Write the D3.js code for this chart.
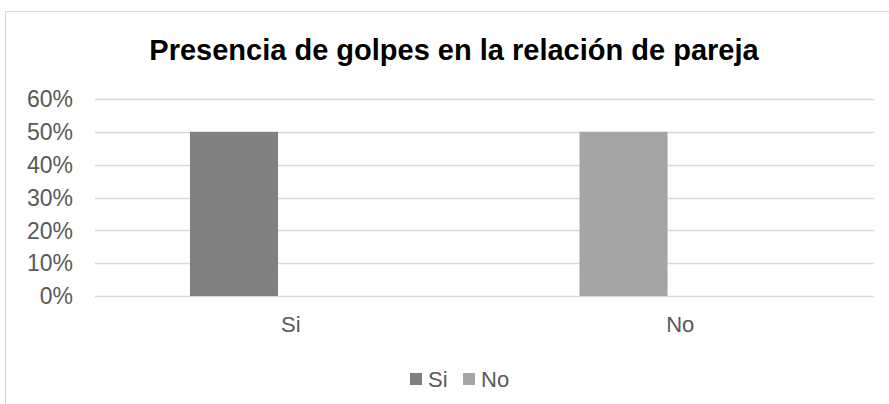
<!DOCTYPE html>
<html>
<head>
<meta charset="utf-8">
<script src="https://cdn.jsdelivr.net/npm/d3@7"></script>
<style>
  body { margin: 0; background: #fff; }
  text { font-family: Arial, "Liberation Sans", sans-serif; }
</style>
</head>
<body>
<svg id="chart"></svg>
<script>
// data
const categories = ['Si', 'No'];
const values = [0.5, 0.5];
const legendNames = ['Si', 'No'];
const yTicks = [0, 0.1, 0.2, 0.3, 0.4, 0.5, 0.6];

const W = 889, H = 404;
const margin = { top: 99, right: 15, bottom: 108, left: 95 };

const colors = d3.scaleOrdinal().domain(categories).range(['#808080', '#a5a5a5']);

const svg = d3.select('#chart').attr('width', W).attr('height', H);

// chart frame
svg.append('rect')
  .attr('x', 5.5).attr('y', 11.5)
  .attr('width', W).attr('height', H)
  .attr('fill', '#fff').attr('stroke', '#d9d9d9').attr('stroke-width', 1);

svg.append('text')
  .attr('x', 454).attr('y', 60)
  .attr('text-anchor', 'middle')
  .style('font-size', '29px').style('font-weight', 'bold')
  .attr('fill', '#000')
  .text('Presencia de golpes en la relación de pareja');

const x = d3.scaleBand().domain(categories).range([margin.left, W - margin.right]).padding(0);
// two slots per category, only the first one holds a bar
const xInner = d3.scaleBand().domain([0, 1]).range([0, x.bandwidth()])
  .paddingInner(0.21).paddingOuter(0.852);
const y = d3.scaleLinear().domain([0, 0.6]).range([H - margin.bottom, margin.top]);

// gridlines
svg.append('g').selectAll('line')
  .data(yTicks).enter().append('line')
  .attr('x1', margin.left).attr('x2', W - margin.right)
  .attr('y1', d => Math.round(y(d)) + 0.5).attr('y2', d => Math.round(y(d)) + 0.5)
  .attr('stroke', '#d9d9d9').attr('stroke-width', 1.5);

// y labels
svg.append('g').selectAll('text')
  .data(yTicks).enter().append('text')
  .attr('x', 73).attr('y', d => y(d))
  .attr('dy', '0.36em')
  .attr('text-anchor', 'end')
  .style('font-size', '23px').attr('fill', '#595959')
  .text(d => d3.format('.0%')(d));

// bars
svg.append('g').selectAll('rect')
  .data(categories).enter().append('rect')
  .attr('x', d => x(d) + xInner(0))
  .attr('width', xInner.bandwidth())
  .attr('y', (d, i) => y(values[i]))
  .attr('height', (d, i) => y(0) - y(values[i]))
  .attr('fill', d => colors(d));

// category labels
svg.append('g').selectAll('text')
  .data(categories).enter().append('text')
  .attr('x', d => x(d) + x.bandwidth() / 2 + 1)
  .attr('y', 332)
  .attr('text-anchor', 'middle')
  .style('font-size', '22px').attr('fill', '#595959')
  .text(d => d);

// legend
const legendX = [410, 463];
const legend = svg.append('g').selectAll('g')
  .data(legendNames).enter().append('g')
  .attr('transform', (d, i) => `translate(${legendX[i]},373)`);

legend.append('rect')
  .attr('width', 12).attr('height', 12)
  .attr('fill', d => colors(d));

legend.append('text')
  .attr('x', 18).attr('y', 14)
  .style('font-size', '22px').attr('fill', '#595959')
  .text(d => d);
</script>
</body>
</html>
